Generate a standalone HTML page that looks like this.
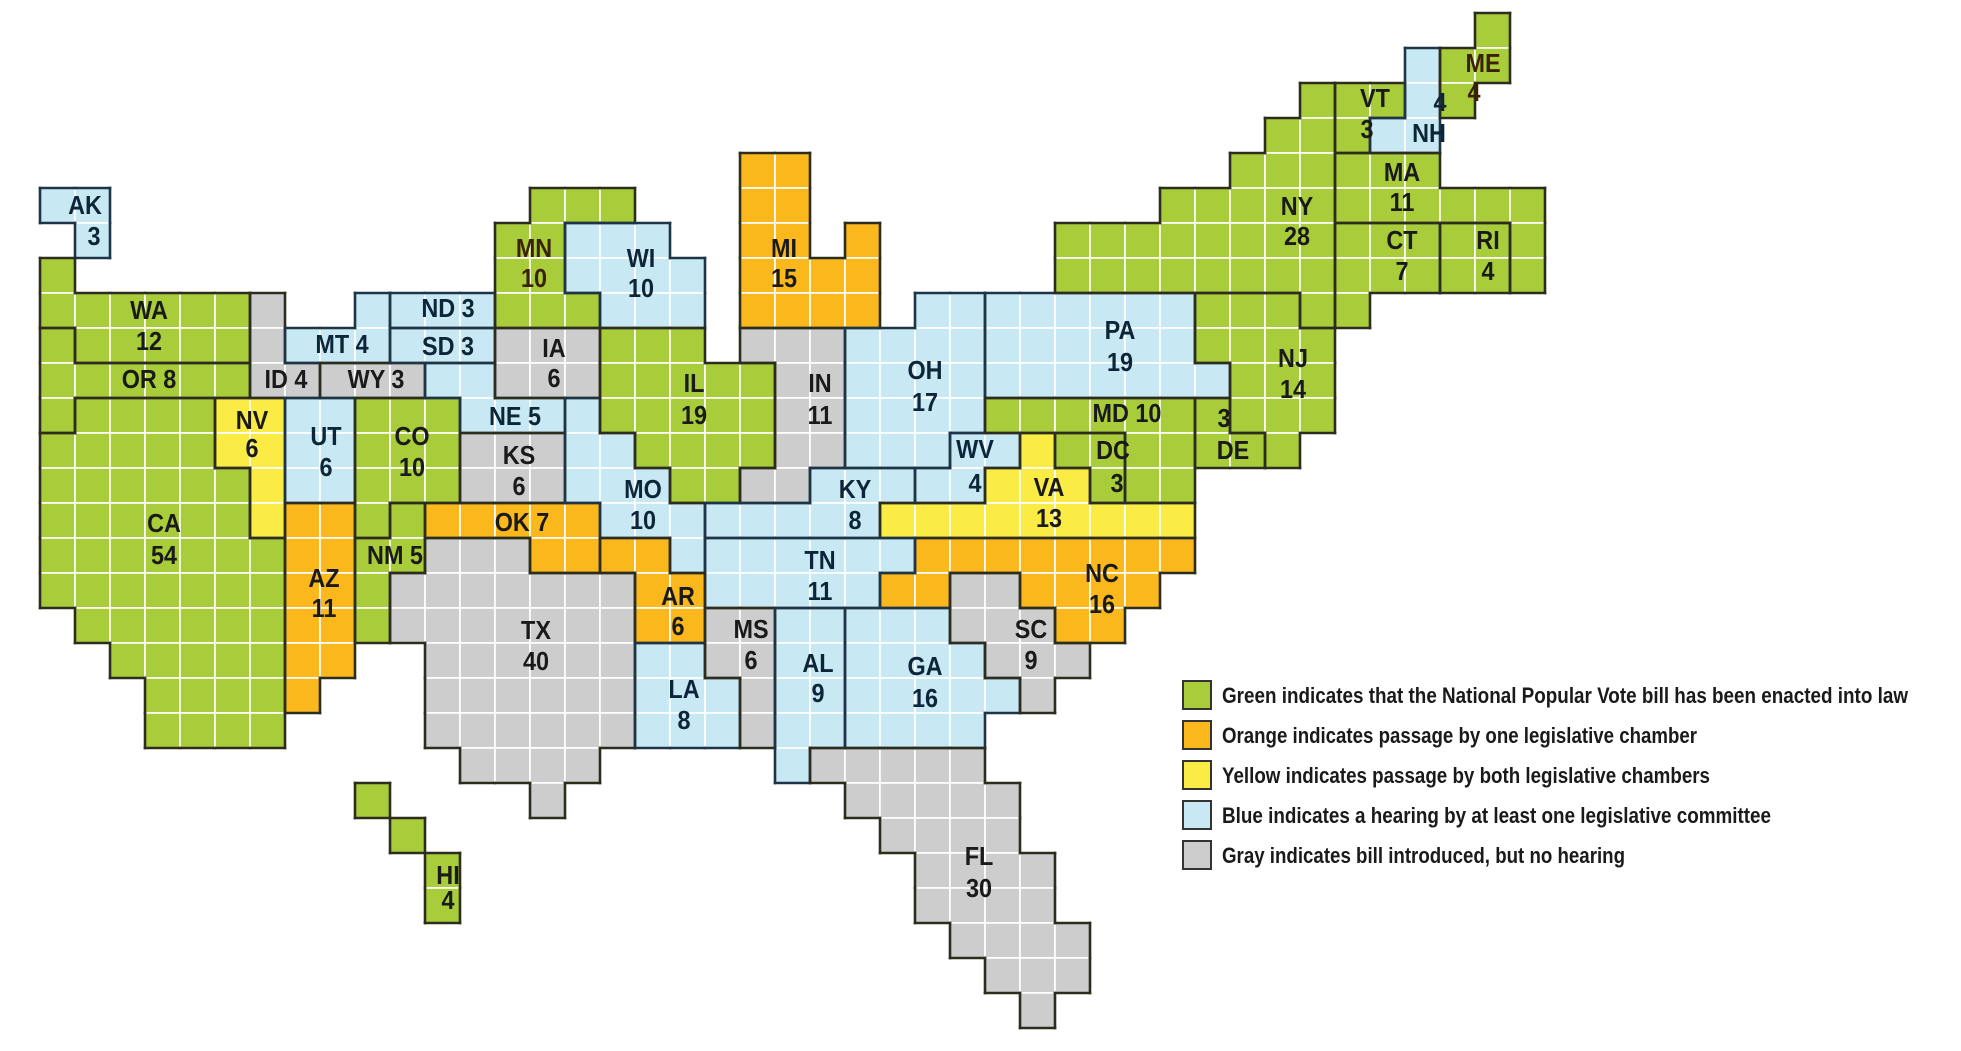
<!DOCTYPE html>
<html><head><meta charset="utf-8"><style>
html,body{margin:0;padding:0;background:#fff;}
svg{display:block;}
.l{font-family:"Liberation Sans Narrow","Liberation Sans",Arial,sans-serif;font-weight:bold;font-size:26px;text-anchor:middle;fill:#1a1a1a;}
.lb{fill:#0d2538;}
.lg{font-family:"Liberation Sans Narrow","Liberation Sans",Arial,sans-serif;font-weight:bold;font-size:22px;fill:#1a1a1a;}
</style></head><body>
<svg id="svg" width="1961" height="1051" viewBox="0 0 1961 1051" xmlns="http://www.w3.org/2000/svg">
<rect width="1961" height="1051" fill="#fff"/>
<g id="cells"></g>
<g id="borders"></g>
<g id="labels">
<g class="l lb"><text transform="translate(85,214) scale(0.9,1)">AK</text><text transform="translate(94,245) scale(0.9,1)">3</text></g>
<g class="l"><text transform="translate(149,319) scale(0.9,1)">WA</text><text transform="translate(149,350) scale(0.9,1)">12</text>
<text transform="translate(149,388) scale(0.9,1)">OR 8</text>
<text transform="translate(164,532) scale(0.9,1)">CA</text><text transform="translate(164,564) scale(0.9,1)">54</text>
<text transform="translate(252,429) scale(0.9,1)">NV</text><text transform="translate(252,457) scale(0.9,1)">6</text>
<text transform="translate(286,388) scale(0.9,1)">ID 4</text>
<text transform="translate(376,388) scale(0.9,1)">WY 3</text>
<text transform="translate(412,445) scale(0.9,1)">CO</text><text transform="translate(412,476) scale(0.9,1)">10</text>
<text transform="translate(519,464) scale(0.9,1)">KS</text><text transform="translate(519,495) scale(0.9,1)">6</text>
<text transform="translate(554,357) scale(0.9,1)">IA</text><text transform="translate(554,387) scale(0.9,1)">6</text>
<text transform="translate(534,257) scale(0.9,1)" style="fill:#3a2200">MN</text><text transform="translate(534,287) scale(0.9,1)" style="fill:#3a2200">10</text>
<text transform="translate(784,257) scale(0.9,1)">MI</text><text transform="translate(784,287) scale(0.9,1)">15</text>
<text transform="translate(694,392) scale(0.9,1)">IL</text><text transform="translate(694,424) scale(0.9,1)">19</text>
<text transform="translate(820,392) scale(0.9,1)">IN</text><text transform="translate(820,424) scale(0.9,1)">11</text>
<text transform="translate(1297,215) scale(0.9,1)">NY</text><text transform="translate(1297,245) scale(0.9,1)">28</text>
<text transform="translate(1375,107) scale(0.9,1)">VT</text><text transform="translate(1367,138) scale(0.9,1)">3</text>
<text transform="translate(1483,72) scale(0.9,1)" style="fill:#3a2200">ME</text><text transform="translate(1474,101) scale(0.9,1)" style="fill:#3a2200">4</text>
<text transform="translate(1402,181) scale(0.9,1)">MA</text><text transform="translate(1402,211) scale(0.9,1)">11</text>
<text transform="translate(1402,249) scale(0.9,1)">CT</text><text transform="translate(1402,280) scale(0.9,1)">7</text>
<text transform="translate(1488,249) scale(0.9,1)">RI</text><text transform="translate(1488,280) scale(0.9,1)">4</text>
<text transform="translate(1293,367) scale(0.9,1)">NJ</text><text transform="translate(1293,398) scale(0.9,1)">14</text>
<text transform="translate(1127,422) scale(0.9,1)">MD 10</text>
<text transform="translate(1224,427) scale(0.9,1)">3</text><text transform="translate(1233,459) scale(0.9,1)">DE</text>
<text transform="translate(1113,459) scale(0.9,1)">DC</text><text transform="translate(1117,492) scale(0.9,1)">3</text>
<text transform="translate(1049,496) scale(0.9,1)">VA</text><text transform="translate(1049,527) scale(0.9,1)">13</text>
<text transform="translate(522,531) scale(0.9,1)">OK 7</text>
<text transform="translate(395,564) scale(0.9,1)">NM 5</text>
<text transform="translate(324,587) scale(0.9,1)">AZ</text><text transform="translate(324,617) scale(0.9,1)">11</text>
<text transform="translate(536,639) scale(0.9,1)">TX</text><text transform="translate(536,670) scale(0.9,1)">40</text>
<text transform="translate(678,605) scale(0.9,1)">AR</text><text transform="translate(678,635) scale(0.9,1)">6</text>
<text transform="translate(1102,582) scale(0.9,1)">NC</text><text transform="translate(1102,613) scale(0.9,1)">16</text>
<text transform="translate(1031,638) scale(0.9,1)">SC</text><text transform="translate(1031,669) scale(0.9,1)">9</text>
<text transform="translate(751,638) scale(0.9,1)">MS</text><text transform="translate(751,669) scale(0.9,1)">6</text>
<text transform="translate(979,865) scale(0.9,1)">FL</text><text transform="translate(979,897) scale(0.9,1)">30</text>
<text transform="translate(448,884) scale(0.9,1)">HI</text><text transform="translate(448,909) scale(0.9,1)">4</text>
</g>
<g class="l lb">
<text transform="translate(326,445) scale(0.9,1)">UT</text><text transform="translate(326,476) scale(0.9,1)">6</text>
<text transform="translate(342,353) scale(0.9,1)">MT 4</text>
<text transform="translate(448,317) scale(0.9,1)">ND 3</text>
<text transform="translate(448,355) scale(0.9,1)">SD 3</text>
<text transform="translate(515,425) scale(0.9,1)">NE 5</text>
<text transform="translate(641,267) scale(0.9,1)">WI</text><text transform="translate(641,297) scale(0.9,1)">10</text>
<text transform="translate(925,379) scale(0.9,1)">OH</text><text transform="translate(925,411) scale(0.9,1)">17</text>
<text transform="translate(1120,339) scale(0.9,1)">PA</text><text transform="translate(1120,371) scale(0.9,1)">19</text>
<text transform="translate(1440,111) scale(0.9,1)">4</text><text transform="translate(1429,142) scale(0.9,1)">NH</text>
<text transform="translate(975,458) scale(0.9,1)">WV</text><text transform="translate(975,492) scale(0.9,1)">4</text>
<text transform="translate(855,498) scale(0.9,1)">KY</text><text transform="translate(855,529) scale(0.9,1)">8</text>
<text transform="translate(643,498) scale(0.9,1)">MO</text><text transform="translate(643,529) scale(0.9,1)">10</text>
<text transform="translate(820,569) scale(0.9,1)">TN</text><text transform="translate(820,600) scale(0.9,1)">11</text>
<text transform="translate(818,672) scale(0.9,1)">AL</text><text transform="translate(818,702) scale(0.9,1)">9</text>
<text transform="translate(925,675) scale(0.9,1)">GA</text><text transform="translate(925,707) scale(0.9,1)">16</text>
<text transform="translate(684,698) scale(0.9,1)">LA</text><text transform="translate(684,729) scale(0.9,1)">8</text>
</g>
</g>
<g id="legend">
<rect x="1183" y="681" width="28" height="28" fill="#a8cc3a" stroke="#333" stroke-width="2"/>
<rect x="1183" y="721" width="28" height="28" fill="#fbb81c" stroke="#333" stroke-width="2"/>
<rect x="1183" y="761" width="28" height="28" fill="#fbeb45" stroke="#333" stroke-width="2"/>
<rect x="1183" y="801" width="28" height="28" fill="#c8e8f4" stroke="#333" stroke-width="2"/>
<rect x="1183" y="841" width="28" height="28" fill="#cdcdcd" stroke="#333" stroke-width="2"/>
<text class="lg" x="1222" y="703" textLength="686" lengthAdjust="spacingAndGlyphs">Green indicates that the National Popular Vote bill has been enacted into law</text>
<text class="lg" x="1222" y="743" textLength="475" lengthAdjust="spacingAndGlyphs">Orange indicates passage by one legislative chamber</text>
<text class="lg" x="1222" y="783" textLength="488" lengthAdjust="spacingAndGlyphs">Yellow indicates passage by both legislative chambers</text>
<text class="lg" x="1222" y="823" textLength="549" lengthAdjust="spacingAndGlyphs">Blue indicates a hearing by at least one legislative committee</text>
<text class="lg" x="1222" y="863" textLength="403" lengthAdjust="spacingAndGlyphs">Gray indicates bill introduced, but no hearing</text>
</g>
</svg>
<script>
(function(){
var C={g:"#a8cc3a",o:"#fbb81c",y:"#fbeb45",b:"#c8e8f4",x:"#cdcdcd"};
var S={
AK:["b","5:0-1;6:1"],
WA:["g","7:0;8:0-5;9:1-5"],
OR:["g","9:0;10:0-5;11:0"],
CA:["g","11:1-4;12:0-4;13:0-5;14:0-5;15:0-6;16:0-6;17:1-6;18:2-6;19:3-6;20:3-6"],
ID:["x","8:6;9:6;10:6-7"],
MT:["b","8:9;9:7-9"],
WY:["x","10:8-10"],
ND:["b","8:10-12"],
SD:["b","9:10-12"],
NV:["y","11:5-6;12:5-6;13:6;14:6"],
UT:["b","11:7-8;12:7-8;13:7-8"],
CO:["g","11:9-11;12:9-11;13:9-11;14:9"],
NE:["b","10:11-12;11:12-14"],
KS:["x","12:12-14;13:12-14"],
AZ:["o","14:7-8;15:7-8;16:7-8;17:7-8;18:7-8;19:7"],
NM:["g","14:10;15:9-10;16:9;17:9"],
OK:["o","14:11-15;15:14-15"],
TX:["x","15:11-13;16:10-16;17:10-16;18:11-16;19:11-16;20:11-16;21:12-15;22:14"],
MN:["g","5:14-16;6:13-14;7:13-14;8:13-15"],
WI:["b","6:15-17;7:15-18;8:16-18"],
IA:["x","9:13-15;10:13-15"],
MO:["b","11:15;12:15-16;13:15-17;14:16-18;15:18"],
IL:["g","9:16-18;10:16-20;11:16-20;12:17-20;13:18-19"],
MI:["o","4:20-21;5:20-21;6:20-21;6:23;7:20-23;8:20-23"],
IN:["x","9:20-22;10:21-22;11:21-22;12:21-22;13:20-21"],
OH:["b","8:25-26;9:23-26;10:23-26;11:23-26;12:23-25"],
KY:["b","13:22-24;14:19-23"],
WV:["b","12:26-27;13:25-26"],
PA:["b","8:27-32;9:27-32;10:27-33"],
NJ:["g","8:33-35;9:33-36;10:34-36;11:34-36;12:35"],
DE:["g","11:33;12:33-34"],
MD:["g","11:27-32;12:31-32;13:31-32"],
DC:["g","12:29-30;13:30"],
VA:["y","12:28;13:27-29;14:24-32"],
NC:["o","15:25-32;16:24-25;16:28-31;17:29-30"],
TN:["b","15:19-24;16:19-23"],
AR:["o","15:16-17;16:17-18;17:17-18"],
LA:["b","18:17-18;19:17-19;20:17-19"],
MS:["x","17:19-20;18:19-20;19:20;20:20"],
AL:["b","17:21-22;18:21-22;19:21-22;20:21-22;21:21"],
GA:["b","17:23-25;18:23-26;19:23-27;20:23-26"],
SC:["x","16:26-27;17:26-28;18:27-29;19:28"],
FL:["x","21:22-26;22:23-27;23:24-27;24:25-28;25:25-28;26:26-29;27:27-29;28:28"],
NY:["g","2:36;3:35-36;4:34-36;5:32-36;6:29-36;7:29-36;8:36"],
VT:["g","2:37-38;3:37"],
NH:["b","1:39;2:39;3:38-39"],
ME:["g","0:41;1:40-41;2:40"],
MA:["g","4:37-39;5:37-42;6:42;7:42"],
CT:["g","6:37-39;7:37-39;8:37"],
RI:["g","6:40-41;7:40-41"],
HI:["g","22:9;23:10;24:11;25:11"]
};
var grid={},cells=[];
for(var k in S){var col=S[k][0];S[k][1].split(";").forEach(function(seg){
 var p=seg.split(":"),r=+p[0],q=p[1].split("-"),a=+q[0],b=q.length>1?+q[1]:a;
 for(var c=a;c<=b;c++){grid[r+","+c]=k;cells.push([r,c,k,col]);}
});}
var X0=40,Y0=13,W=35,h1="",h2="";
cells.forEach(function(t){
 var r=t[0],c=t[1],x=X0+c*W,y=Y0+r*W;
 h1+='<rect x="'+x+'" y="'+y+'" width="'+W+'" height="'+W+'" fill="'+C[t[3]]+'" stroke="#fff" stroke-width="2" stroke-opacity="0.8"/>';
});
cells.forEach(function(t){
 var r=t[0],c=t[1],k=t[2],x=X0+c*W,y=Y0+r*W;
 var st=t[3]=="b"?"#1e3447":"#2d2d1e";
 function L(x1,y1,x2,y2){h2+='<line x1="'+x1+'" y1="'+y1+'" x2="'+x2+'" y2="'+y2+'" stroke="'+st+'" stroke-width="2.6" stroke-linecap="square"/>';}
 if(grid[(r-1)+","+c]!==k)L(x,y,x+W,y);
 if(grid[(r+1)+","+c]!==k)L(x,y+W,x+W,y+W);
 if(grid[r+","+(c-1)]!==k)L(x,y,x,y+W);
 if(grid[r+","+(c+1)]!==k)L(x+W,y,x+W,y+W);
});
document.getElementById("cells").innerHTML=h1;
document.getElementById("borders").innerHTML=h2;
})();
</script>
</body></html>
